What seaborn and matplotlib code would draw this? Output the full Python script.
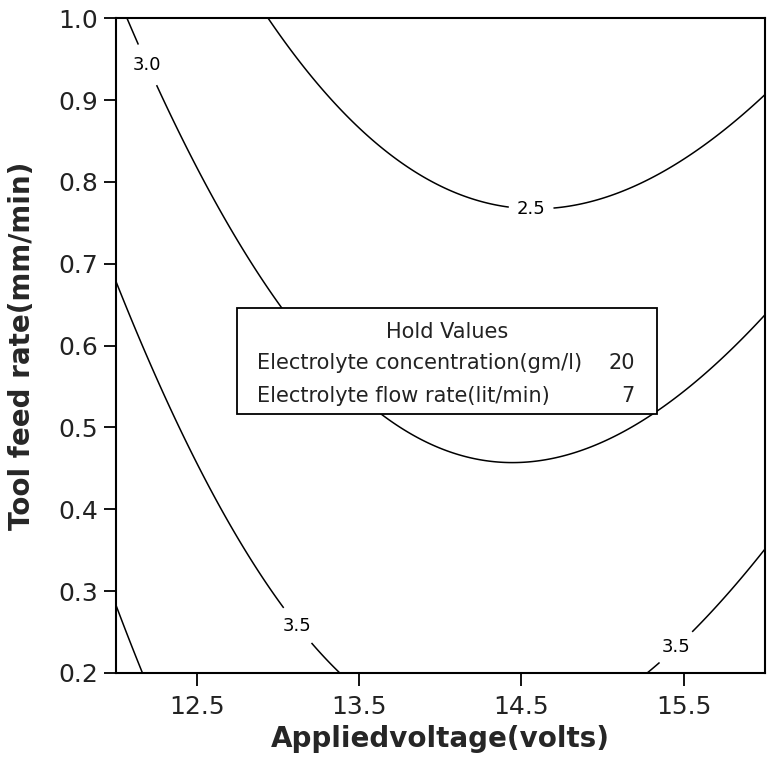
import numpy as np
import matplotlib
matplotlib.use("Agg")
import matplotlib.pyplot as plt
import seaborn as sns

# Points read along each contour of the reference (voltage, feed rate, level)
c25_x = [12.95, 13.63, 14.39, 14.87, 15.24, 15.69, 16.0]
c25_y = [1.00, 0.840, 0.769, 0.770, 0.802, 0.860, 0.905]
c30_x = [12.07, 12.23, 12.60, 12.95, 13.73, 14.27, 14.62, 15.21, 15.41, 16.0]
c30_y = [1.00, 0.924, 0.781, 0.668, 0.50, 0.457, 0.457, 0.50, 0.529, 0.635]
c35_x = [12.0, 12.46, 12.66, 12.95, 13.39, 15.27, 15.53, 15.74, 16.0]
c35_y = [0.668, 0.50, 0.40, 0.30, 0.20, 0.20, 0.249, 0.289, 0.353]
c40_x = [12.0, 12.15]
c40_y = [0.280, 0.20]
levels = [2.5, 3.0, 3.5, 4.0]
label_levels = [2.5, 3.0, 3.5]
label_pos = [(12.16, 0.94), (14.56, 0.767), (13.12, 0.258), (15.45, 0.232)]

x_ticks = [12.5, 13.5, 14.5, 15.5]
y_ticks = [0.2, 0.3, 0.4, 0.5, 0.6, 0.7, 0.8, 0.9, 1.0]
hold_names = ["Electrolyte concentration(gm/l)", "Electrolyte flow rate(lit/min)"]
hold_vals = ["20", "7"]

# Assemble observations and fit a second-order response surface
px = np.array(c25_x + c30_x + c35_x + c40_x)
py = np.array(c25_y + c30_y + c35_y + c40_y)
pz = np.array([2.5] * len(c25_x) + [3.0] * len(c30_x) + [3.5] * len(c35_x) + [4.0] * len(c40_x))

def design(u, v):
    u = u - 14.0
    v = v - 0.6
    return np.column_stack([np.ones_like(u), u, v, u * u, v * v, u * v, u * u * v])

coef, *_ = np.linalg.lstsq(design(px, py), pz, rcond=None)

gx = np.linspace(12, 16, 300)
gy = np.linspace(0.2, 1.0, 300)
GX, GY = np.meshgrid(gx, gy)
GZ = (design(GX.ravel(), GY.ravel()) @ coef).reshape(GX.shape)

sns.set_theme(style="ticks")
plt.rcParams["font.family"] = ["DejaVu Sans"]

fig = plt.figure(figsize=(7.67, 7.63), dpi=100)
ax = fig.add_axes([0.151, 0.118, 0.846, 0.858])

cs = ax.contour(GX, GY, GZ, levels=levels, colors="black", linewidths=1.1)
lbls = ax.clabel(cs, levels=label_levels, inline=True, fontsize=13, fmt="%.1f",
                 manual=label_pos, inline_spacing=8)
for t in lbls:
    t.set_rotation(0)

ax.set_xlim(12, 16)
ax.set_ylim(0.2, 1.0)
ax.set_xticks(x_ticks)
ax.set_xticklabels([f"{t:.1f}" for t in x_ticks])
ax.set_yticks(y_ticks)
ax.set_yticklabels([f"{t:.1f}" for t in y_ticks])
ax.tick_params(axis="both", labelsize=18, length=9, width=1.3, color="black",
               direction="out", top=False, right=False, labelcolor="#222222")
ax.tick_params(axis="x", pad=7)
ax.tick_params(axis="y", pad=4)
for s in ax.spines.values():
    s.set_color("black")
    s.set_linewidth(1.5)

ax.set_xlabel("Appliedvoltage(volts)", fontsize=20, fontweight="bold", labelpad=4)
ax.set_ylabel("Tool feed rate(mm/min)", fontsize=20, fontweight="bold", labelpad=16)

# Hold values box
bx0, by0, bw, bh = 0.186, 0.395, 0.648, 0.162
ax.add_patch(plt.Rectangle((bx0, by0), bw, bh, transform=ax.transAxes,
                           facecolor="white", edgecolor="black", linewidth=1.3, zorder=5))
ax.text(bx0 + bw / 2, by0 + bh * 0.78, "Hold Values", transform=ax.transAxes,
        ha="center", va="center", fontsize=15, zorder=6, color="#222222")
for i, (name, val) in enumerate(zip(hold_names, hold_vals)):
    yy = by0 + bh * (0.48 - 0.31 * i)
    ax.text(bx0 + 0.031, yy, name, transform=ax.transAxes, ha="left", va="center",
            fontsize=15, zorder=6, color="#222222")
    ax.text(bx0 + bw - 0.034, yy, val, transform=ax.transAxes, ha="right", va="center",
            fontsize=15, zorder=6, color="#222222")

fig.savefig("out.png", dpi=100)
